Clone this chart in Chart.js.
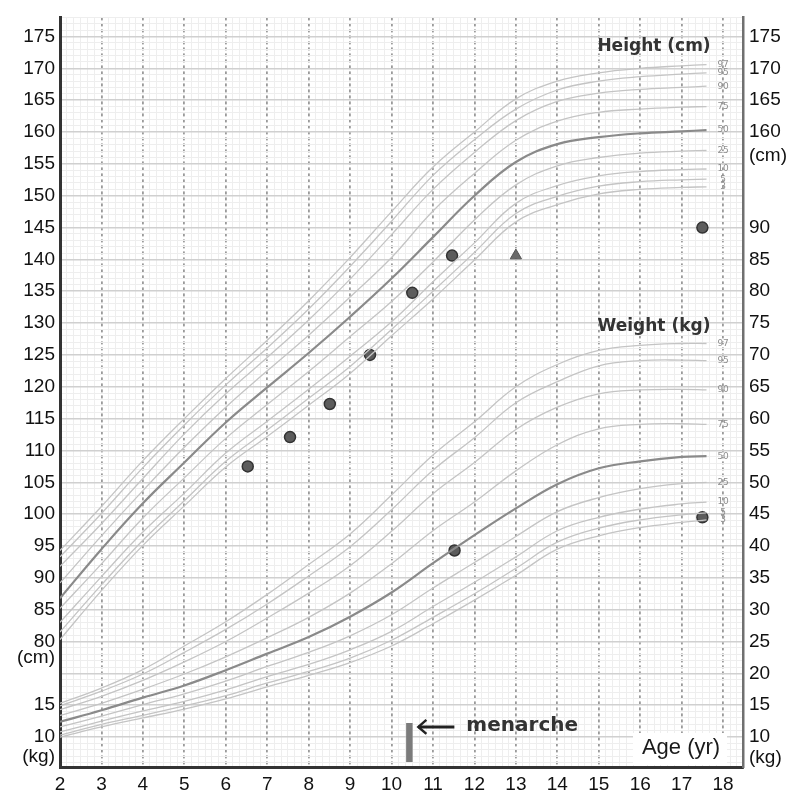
<!DOCTYPE html>
<html><head><meta charset="utf-8">
<script src="https://cdn.jsdelivr.net/npm/chart.js@4.4.1/dist/chart.umd.min.js"></script>
<style>html,body{margin:0;padding:0;background:#fff}canvas{display:block}</style>
</head><body>
<canvas id="c" width="792" height="807"></canvas>
<script>
// ---------------- DATA ----------------
const ages = [2,3,4,5,6,7,8,9,10,11,12,13,14,15,16,17,17.6];
const percentileNames = ['97','95','90','75','50','25','10','5','3'];

const heightP97 = [94.3,101.2,108.4,115.0,121.3,127.3,133.5,140.3,147.5,154.5,160.0,165.2,168.0,169.3,170.0,170.4,170.6];
const heightP95 = [93.3,100.1,107.3,114.0,120.3,126.1,132.2,138.9,146.0,153.2,158.8,163.6,166.6,168.0,168.7,169.1,169.3];
const heightP90 = [91.8,98.5,105.6,112.6,118.9,124.6,130.5,136.9,143.9,151.0,156.8,161.8,164.8,166.1,166.7,167.0,167.2];
const heightP75 = [89.2,96.6,103.7,110.5,116.8,122.5,128.1,134.1,140.3,147.6,153.5,158.7,161.7,163.1,163.6,163.9,164.0];
const heightP50 = [86.8,94.5,101.7,108.1,114.4,119.9,125.3,131.0,137.0,143.5,150.0,155.3,158.1,159.2,159.8,160.1,160.3];
const heightP25 = [85.2,92.2,99.4,105.7,111.9,117.2,122.4,127.9,133.4,139.6,146.2,151.7,154.7,156.0,156.7,157.0,157.1];
const heightP10 = [83.0,90.2,97.2,103.3,109.6,114.6,119.6,124.8,130.2,136.5,142.6,148.8,151.6,153.1,153.8,154.1,154.2];
const heightP5  = [81.5,88.9,95.9,102.1,108.3,113.2,118.2,123.2,129.0,135.0,141.1,147.2,149.9,151.5,152.2,152.5,152.6];
const heightP3  = [80.3,88.0,95.1,101.3,107.4,112.2,117.1,122.1,128.0,133.8,139.9,145.9,148.6,150.3,151.0,151.3,151.4];

const weightP97 = [15.3,17.7,20.6,24.3,28.1,32.4,37.1,41.9,48.0,54.3,59.5,65.0,68.5,70.7,71.5,71.8,71.8];
const weightP95 = [14.9,17.2,19.9,23.3,26.9,30.9,35.3,39.9,45.7,51.9,57.0,62.5,65.8,68.3,69.1,69.2,69.1];
const weightP90 = [14.3,16.4,18.9,21.8,25.0,28.7,32.6,36.9,42.3,48.2,53.1,58.3,61.8,63.9,64.5,64.6,64.5];
const weightP75 = [13.4,15.3,17.5,19.9,22.6,25.6,28.8,32.6,37.2,42.4,46.9,51.8,55.9,58.4,59.1,59.2,59.1];
const weightP50 = [12.4,14.2,16.2,18.1,20.5,23.1,25.7,28.9,32.7,37.3,41.7,45.9,49.7,52.2,53.3,54.0,54.1];
const weightP25 = [11.6,13.3,15.1,16.8,18.8,21.1,23.3,25.9,29.2,33.4,37.4,41.5,45.4,47.6,49.0,49.8,50.0];
const weightP10 = [10.8,12.5,14.1,15.6,17.4,19.5,21.4,23.7,26.6,30.5,34.3,38.3,42.4,44.5,45.8,46.6,46.9];
const weightP5  = [10.3,12.0,13.4,14.9,16.5,18.5,20.3,22.4,25.2,28.8,32.5,36.5,40.6,42.8,44.1,44.9,45.2];
const weightP3  = [10.0,11.6,13.0,14.4,16.0,17.9,19.7,21.7,24.3,27.8,31.5,35.4,39.5,41.6,42.9,43.7,44.1];

const patientHeightAges = [6.53,7.55,8.51,9.48,10.5,11.46,17.5];
const patientHeights    = [107.5,112.1,117.3,125.0,134.75,140.6,145.0];
const markerAges    = [13.0];
const markerHeights = [140.6];
const patientWeightAges = [11.52,17.5];
const patientWeights    = [39.3,44.5];
const menarcheAge = 10.43;
const menarcheBarWeights = [6.1, 12.2];

const xTickLabels = [2,3,4,5,6,7,8,9,10,11,12,13,14,15,16,17,18];
const leftHeightTicks  = [80,85,90,95,100,105,110,115,120,125,130,135,140,145,150,155,160,165,170,175];
const leftWeightTicks  = [10,15];
const rightHeightTicks = [160,165,170,175];
const rightWeightTicks = [10,15,20,25,30,35,40,45,50,55,60,65,70,75,80,85,90];

// ---------------- LAYOUT ----------------
const W_OFFSET = 55;             // weight axis is the height axis shifted by 55 units
const X_MIN = 2, X_MAX = 18.48;
const Y_MIN = 60.3, Y_MAX = 178.0;
const LEFT_CM_POS = 77.5, LEFT_KG_POS = 61.9;    // height units
const RIGHT_CM_POS = 101.3, RIGHT_KG_POS = 6.8;  // weight units
const LABEL_AGE = 18.0;
const SUB_PER_YEAR = 6;

const heightCurves = [heightP97,heightP95,heightP90,heightP75,heightP50,heightP25,heightP10,heightP5,heightP3];
const weightCurves = [weightP97,weightP95,weightP90,weightP75,weightP50,weightP25,weightP10,weightP5,weightP3];

const isInt = v => Math.abs(v - Math.round(v)) < 1e-9;

// tick tables
const xTicks = [];
for (let k = 0; X_MIN + k / SUB_PER_YEAR <= X_MAX + 1e-9; k++) xTicks.push(X_MIN + k / SUB_PER_YEAR);
const xLabelSet = new Set(xTickLabels);

const leftMap = new Map();
leftHeightTicks.forEach(h => leftMap.set(h, String(h)));
leftWeightTicks.forEach(w => leftMap.set(w + W_OFFSET, String(w)));
leftMap.set(LEFT_CM_POS, '(cm)');
leftMap.set(LEFT_KG_POS, '(kg)');
const leftTicks = [];
for (let v = Math.ceil(Y_MIN); v <= Y_MAX; v++) leftTicks.push(v);
leftTicks.push(LEFT_CM_POS, LEFT_KG_POS);
leftTicks.sort((a,b)=>a-b);

const rightMap = new Map();
rightWeightTicks.forEach(w => rightMap.set(w, String(w)));
rightHeightTicks.forEach(h => rightMap.set(h - W_OFFSET, String(h)));
rightMap.set(RIGHT_CM_POS, '(cm)');
rightMap.set(RIGHT_KG_POS, '(kg)');
const rightTicks = Array.from(rightMap.keys()).sort((a,b)=>a-b);

// ---------------- DATASETS ----------------
const datasets = [];
percentileNames.forEach((p, i) => {
  const is50 = p === '50';
  const style = {
    borderColor: is50 ? '#8a8a8a' : '#c4c4c4',
    borderWidth: is50 ? 2.2 : 1.3,
    pointRadius: 0, fill: false, tension: 0.4
  };
  datasets.push(Object.assign({label: 'H' + p, yAxisID: 'y',
    data: ages.map((a, j) => ({x: a, y: heightCurves[i][j]}))}, style));
  datasets.push(Object.assign({label: 'W' + p, yAxisID: 'yw',
    data: ages.map((a, j) => ({x: a, y: weightCurves[i][j]}))}, style));
});
const dotStyle = {showLine: false, pointRadius: 5.5, pointBackgroundColor: '#5c5c5c',
  pointBorderColor: '#333', pointBorderWidth: 1.5, borderColor: 'transparent'};
datasets.push(Object.assign({label: 'patientH', yAxisID: 'y',
  data: patientHeightAges.map((a, j) => ({x: a, y: patientHeights[j]}))}, dotStyle));
datasets.push(Object.assign({label: 'patientW', yAxisID: 'yw',
  data: patientWeightAges.map((a, j) => ({x: a, y: patientWeights[j]}))}, dotStyle));
datasets.push({label: 'marker', yAxisID: 'y', showLine: false, pointStyle: 'triangle',
  pointRadius: 6.5, pointBackgroundColor: '#6a6a6a', pointBorderColor: '#555', borderColor: 'transparent',
  data: markerAges.map((a, j) => ({x: a, y: markerHeights[j]}))});
datasets.push({label: 'menarche', yAxisID: 'yw', borderColor: '#7b7b7b', borderWidth: 6.5,
  borderCapStyle: 'butt', pointRadius: 0,
  data: menarcheBarWeights.map(w => ({x: menarcheAge, y: w}))});

// ---------------- TEXT PLUGIN ----------------
const textPlugin = {
  id: 'chartText',
  afterDatasetsDraw(chart) {
    const {ctx, scales: {x, y, yw}, chartArea: ca} = chart;
    ctx.save();
    // percentile labels
    ctx.font = '9px "DejaVu Sans"';
    ctx.fillStyle = '#8e8e8e';
    ctx.textAlign = 'center';
    ctx.textBaseline = 'middle';
    const lx = x.getPixelForValue(LABEL_AGE);
    percentileNames.forEach((p, i) => {
      const hc = heightCurves[i], wc = weightCurves[i];
      ctx.fillText(p, lx, y.getPixelForValue(hc[hc.length - 1]));
      ctx.fillText(p, lx, yw.getPixelForValue(wc[wc.length - 1]));
    });
    // titles
    ctx.font = 'bold 17px "DejaVu Sans"';
    ctx.fillStyle = '#333';
    ctx.fillText('Height (cm)', ca.right - 89, ca.top + 29);
    ctx.fillText('Weight (kg)', ca.right - 89, ca.top + 309);
    // menarche arrow + text
    const ay = yw.getPixelForValue(11.6);
    const ax0 = x.getPixelForValue(menarcheAge) + 8;
    const ax1 = ax0 + 37;
    ctx.strokeStyle = '#222'; ctx.lineWidth = 3; ctx.lineCap = 'butt';
    ctx.beginPath(); ctx.moveTo(ax0 + 1, ay); ctx.lineTo(ax1, ay); ctx.stroke();
    ctx.lineWidth = 2.5;
    ctx.beginPath(); ctx.moveTo(ax0 + 9, ay - 7); ctx.lineTo(ax0 + 1, ay); ctx.lineTo(ax0 + 9, ay + 7); ctx.stroke();
    ctx.font = 'bold 20px "DejaVu Sans"';
    ctx.fillStyle = '#333';
    ctx.textAlign = 'left';
    ctx.fillText('menarche', ax1 + 12, ay - 1);
    // Age label box
    ctx.fillStyle = '#fff';
    ctx.fillRect(ca.right - 110, ca.bottom - 34, 94, 32);
    ctx.fillStyle = '#1a1a1a';
    ctx.font = '22px "Liberation Sans"';
    ctx.textAlign = 'center';
    ctx.fillText('Age (yr)', ca.right - 62, ca.bottom - 19);
    ctx.restore();
  }
};

// ---------------- CHART ----------------
const tickFont = {family: '"Liberation Sans", Arial', size: 19};
new Chart(document.getElementById('c'), {
  type: 'line',
  data: {datasets},
  plugins: [textPlugin],
  options: {
    responsive: false, animation: false, devicePixelRatio: 1,
    layout: {padding: {top: 13, left: 0, right: 0, bottom: 0}},
    plugins: {legend: {display: false}, tooltip: {enabled: false}},
    scales: {
      x: {
        type: 'linear', min: X_MIN, max: X_MAX,
        afterBuildTicks: s => { s.ticks = xTicks.map(v => ({value: v})); },
        afterFit: s => { s.height = 40; },
        ticks: {autoSkip: false, maxRotation: 0, minRotation: 0, padding: 6, color: '#111', font: tickFont,
          callback: v => (isInt(v) && xLabelSet.has(Math.round(v))) ? String(Math.round(v)) : ''},
        grid: {drawTicks: false,
          color: c => isInt(c.tick.value) ? '#9a9a9a' : '#eeeeee',
          lineWidth: c => isInt(c.tick.value) ? 1.8 : 1},
        border: {display: true, color: '#333', width: 3,
          dash: c => (c.tick && isInt(c.tick.value)) ? [3, 3] : []}
      },
      y: {
        type: 'linear', position: 'left', min: Y_MIN, max: Y_MAX,
        afterBuildTicks: s => { s.ticks = leftTicks.map(v => ({value: v})); },
        afterFit: s => { s.width = 60; },
        ticks: {autoSkip: false, padding: 5, color: '#111', font: tickFont,
          callback: v => leftMap.has(v) ? leftMap.get(v) : ''},
        grid: {drawTicks: false,
          color: c => !isInt(c.tick.value) ? 'rgba(0,0,0,0)' : (Math.round(c.tick.value) % 5 === 0 ? '#d0d0d0' : '#eeeeee'),
          lineWidth: c => (isInt(c.tick.value) && Math.round(c.tick.value) % 5 === 0) ? 1.6 : 1},
        border: {display: true, color: '#333', width: 3}
      },
      yw: {
        type: 'linear', position: 'right', min: Y_MIN - W_OFFSET, max: Y_MAX - W_OFFSET,
        afterBuildTicks: s => { s.ticks = rightTicks.map(v => ({value: v})); },
        afterFit: s => { s.width = 49; },
        ticks: {autoSkip: false, padding: 6, color: '#111', font: tickFont,
          callback: v => rightMap.has(v) ? rightMap.get(v) : ''},
        grid: {display: false, drawTicks: false},
        border: {display: true, color: '#707070', width: 2.5}
      }
    }
  }
});
</script>
</body></html>
